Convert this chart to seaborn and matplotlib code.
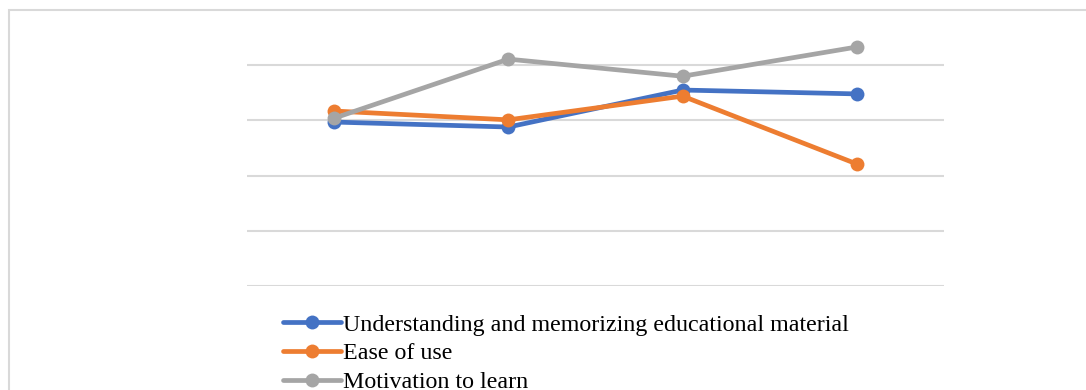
import matplotlib
matplotlib.use("Agg")
import matplotlib.pyplot as plt
import seaborn as sns
import pandas as pd
from matplotlib.patches import Rectangle

categories = ["1", "2", "3", "4"]
understanding = [2.97, 2.88, 3.55, 3.48]
ease_of_use = [3.17, 3.01, 3.44, 2.21]
motivation = [3.04, 4.11, 3.80, 4.33]
series_names = ["Understanding and memorizing educational material",
                "Ease of use", "Motivation to learn"]
colors = ["#4472C4", "#ED7D31", "#A5A5A5"]

rows = []
for name, vals in zip(series_names, [understanding, ease_of_use, motivation]):
    for i, v in enumerate(vals):
        rows.append({"x": i + 0.5, "value": v, "series": name})
df = pd.DataFrame(rows)

sns.set_theme(style="white")
plt.rcParams["font.family"] = ["Liberation Serif", "DejaVu Serif"]

fig = plt.figure(figsize=(10.86, 3.9), dpi=100)
ax = fig.add_axes([247/1086, 1 - 286/390, (944-247)/1086, 276/390])

sns.lineplot(data=df, x="x", y="value", hue="series", hue_order=series_names,
             palette=colors, marker="o", markersize=10, markeredgewidth=0,
             linewidth=3.4, ax=ax, legend=True)

ax.set_xlim(0, 4)
ax.set_ylim(0, 5)
ax.set_yticks([0, 1, 2, 3, 4])
ax.set_xticks([])
ax.yaxis.grid(True, color="#D9D9D9", linewidth=1.5)
ax.set_axisbelow(True)
ax.tick_params(left=False, bottom=False, labelleft=False, labelbottom=False)
for s in ax.spines.values():
    s.set_visible(False)
ax.set_xlabel("")
ax.set_ylabel("")

handles, labels = ax.get_legend_handles_labels()
ax.legend_.remove()
leg = fig.legend(handles, labels, loc="upper left",
                 bbox_to_anchor=(283/1086, 1 - 314/390),
                 frameon=False, fontsize=17.3, handlelength=2.4,
                 handletextpad=0.08, labelspacing=0.28, borderpad=0,
                 borderaxespad=0, labelcolor="black")

fig.patches.append(Rectangle((9/1086, -0.1), 1.2, 1 - 10/390 + 0.1,
                             transform=fig.transFigure, fill=False,
                             edgecolor="#D9D9D9", linewidth=1.5))

fig.savefig("out.png", dpi=100)
